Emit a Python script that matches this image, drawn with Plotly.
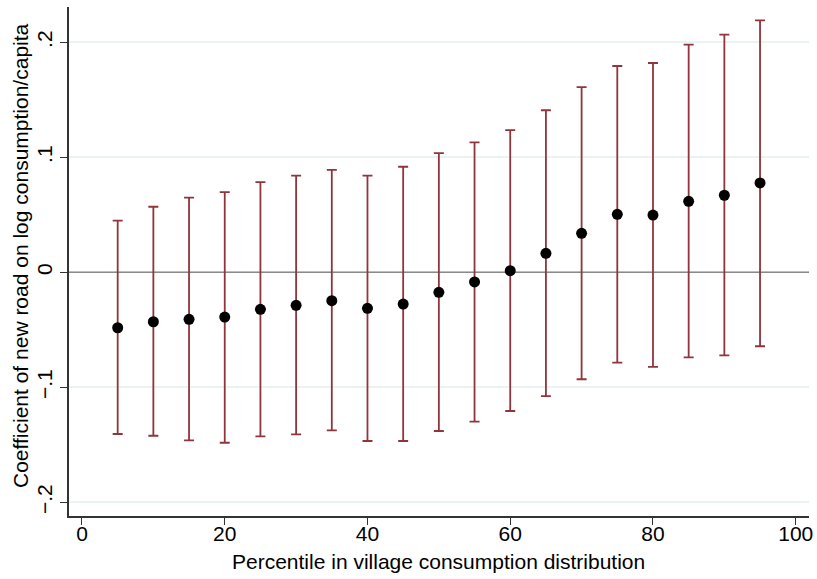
import plotly.graph_objects as go

percentile = [5, 10, 15, 20, 25, 30, 35, 40, 45, 50, 55, 60, 65, 70, 75, 80, 85, 90, 95]
coef = [-0.0482, -0.0430, -0.0409, -0.0389, -0.0322, -0.0287, -0.0247, -0.0313, -0.0276, -0.0174,
        -0.0084, 0.0014, 0.0165, 0.0339, 0.0504, 0.0498, 0.0617, 0.0670, 0.0777]
ci_upper = [0.0449, 0.0570, 0.0649, 0.0698, 0.0785, 0.0840, 0.0890, 0.0840, 0.0918, 0.1037,
            0.1130, 0.1237, 0.1409, 0.1611, 0.1794, 0.1820, 0.1979, 0.2066, 0.2191]
ci_lower = [-0.1406, -0.1421, -0.1461, -0.1482, -0.1426, -0.1409, -0.1374, -0.1467, -0.1467, -0.1380,
            -0.1299, -0.1206, -0.1076, -0.0930, -0.0786, -0.0823, -0.0739, -0.0722, -0.0643]

y_ticks = [-0.2, -0.1, 0, 0.1, 0.2]
y_ticktext = ["\u2212.2", "\u2212.1", "0", ".1", ".2"]
x_ticks = [0, 20, 40, 60, 80, 100]

font_family = "Liberation Sans, Arial, Helvetica, sans-serif"
cranberry = "#90353B"
x_range = [-1.82, 101.86]

fig = go.Figure()

# zero reference line
fig.add_trace(go.Scatter(
    x=x_range, y=[0, 0], mode="lines",
    line=dict(color="#8a8a8a", width=1.6), hoverinfo="skip", showlegend=False))

# confidence intervals
fig.add_trace(go.Scatter(
    x=percentile, y=coef, mode="markers",
    marker=dict(size=0.1, color="rgba(0,0,0,0)"),
    error_y=dict(type="data", symmetric=False,
                 array=[u - c for u, c in zip(ci_upper, coef)],
                 arrayminus=[c - l for c, l in zip(coef, ci_lower)],
                 color=cranberry, thickness=1.8, width=5),
    showlegend=False))

# point estimates
fig.add_trace(go.Scatter(
    x=percentile, y=coef, mode="markers",
    marker=dict(size=11, color="black"),
    showlegend=False))

fig.update_layout(
    width=817, height=579,
    margin=dict(l=69, r=8, t=7, b=63),
    paper_bgcolor="white", plot_bgcolor="white",
    font=dict(family=font_family, size=21, color="black"),
    xaxis=dict(
        range=x_range, tickvals=x_ticks, automargin=False,
        showgrid=False, zeroline=False,
        showline=True, linecolor="#333333", linewidth=1.6,
        ticks="outside", ticklen=7, tickcolor="#333333", tickwidth=1.2,
        tickfont=dict(size=21), ticklabelstandoff=-9,
    ),
    yaxis=dict(
        range=[-0.2119, 0.2307], tickvals=y_ticks, ticktext=y_ticktext,
        tickangle=-90, automargin=False,
        showgrid=True, gridcolor="#eaf2f3", gridwidth=1.6, zeroline=False,
        showline=True, linecolor="#333333", linewidth=1.6,
        ticks="outside", ticklen=7, tickcolor="#333333", tickwidth=1.2,
        tickfont=dict(size=21),
    ),
    annotations=[
        dict(text="Percentile in village consumption distribution",
             xref="paper", yref="paper", x=(438.5 - 69) / 740, y=-(561 - 516) / 509,
             xanchor="center", yanchor="middle", showarrow=False,
             font=dict(size=21)),
        dict(text="Coefficient of new road on log consumption/capita",
             xref="paper", yref="paper", x=-(69 - 20) / 740, y=(516 - 256) / 509,
             xanchor="center", yanchor="middle", textangle=-90, showarrow=False,
             font=dict(size=21)),
    ],
)

fig.write_html(
    "out.html",
    config={"displayModeBar": False},
    post_script="document.body.style.margin='0';document.body.style.overflow='hidden';",
)
